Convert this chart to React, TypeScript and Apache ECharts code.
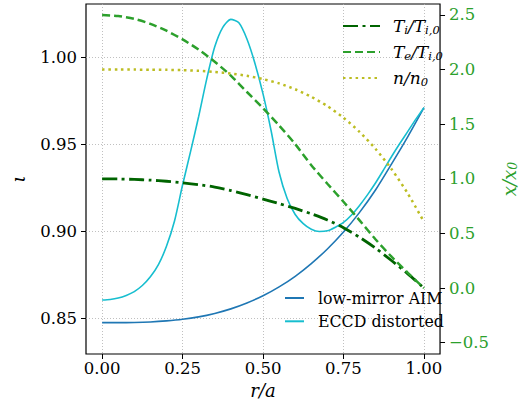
import React, { useEffect, useRef } from "react";
import * as echarts from "echarts";

// r/a sample points
const rGrid = [0, 0.05, 0.1, 0.15, 0.2, 0.25, 0.3, 0.35, 0.4, 0.45, 0.5, 0.55, 0.6, 0.65, 0.7, 0.75, 0.8, 0.85, 0.9, 0.95, 1.0];
// rotational transform, low-mirror AIM
const aimIota = [0.8477, 0.8477, 0.8478, 0.8481, 0.8487, 0.8496, 0.851, 0.853, 0.8556, 0.859, 0.8631, 0.8682, 0.8743, 0.8816, 0.89, 0.8997, 0.911, 0.924, 0.939, 0.9545, 0.9711];
// rotational transform, ECCD distorted (finer sampling)
const eccdR = [0, 0.025, 0.05, 0.075, 0.1, 0.125, 0.15, 0.175, 0.2, 0.225, 0.25, 0.275, 0.3, 0.325, 0.35, 0.375, 0.4, 0.425, 0.45, 0.475, 0.5, 0.525, 0.55, 0.575, 0.6, 0.625, 0.65, 0.675, 0.7, 0.725, 0.75, 0.775, 0.8, 0.825, 0.85, 0.875, 0.9, 0.925, 0.95, 0.975, 1.0];
const eccdIota = [0.8607, 0.861, 0.8618, 0.8633, 0.8655, 0.869, 0.874, 0.881, 0.8915, 0.906, 0.9267, 0.946, 0.966, 0.9875, 1.006, 1.0172, 1.0218, 1.0198, 1.0105, 0.9965, 0.979, 0.958, 0.934, 0.919, 0.9098, 0.9045, 0.9013, 0.9, 0.9004, 0.9025, 0.9052, 0.9095, 0.915, 0.9212, 0.928, 0.9355, 0.9432, 0.9505, 0.9575, 0.9645, 0.9711];
// profiles (right axis)
const tiProfile = [1.0, 0.999, 0.995, 0.988, 0.978, 0.964, 0.947, 0.925, 0.893, 0.855, 0.815, 0.773, 0.729, 0.68, 0.623, 0.553, 0.465, 0.365, 0.25, 0.13, 0.0];
const teProfile = [2.5, 2.491, 2.464, 2.419, 2.356, 2.277, 2.183, 2.072, 1.945, 1.795, 1.647, 1.488, 1.318, 1.125, 0.955, 0.79, 0.62, 0.445, 0.285, 0.14, 0.0];
const nProfile = [2.0, 2.0, 2.0, 1.999, 1.998, 1.995, 1.989, 1.979, 1.964, 1.943, 1.913, 1.874, 1.82, 1.751, 1.666, 1.56, 1.43, 1.273, 1.086, 0.865, 0.607];

// ticks
const xTicks = [0, 0.25, 0.5, 0.75, 1.0];
const iotaTicks = [0.85, 0.9, 0.95, 1.0];
const rightTicks = [-0.5, 0, 0.5, 1.0, 1.5, 2.0, 2.5];

const FONT = "DejaVu Serif";
const GREEN = "#2ca02c";
const TICK_FS = 16.5;

const zip = (xs: number[], ys: number[]) => xs.map((x, i) => [x, ys[i]]);

export default function App() {
  const ref = useRef<HTMLDivElement>(null);
  useEffect(() => {
    if (!ref.current) return;
    const chart = echarts.init(ref.current, null, { renderer: "svg" });
    const legendRich = {
      sp: { width: 8 },
      it: { fontFamily: FONT, fontStyle: "italic", fontSize: 17, lineHeight: 20, color: "#000" },
      sub: { fontFamily: FONT, fontStyle: "italic", fontSize: 11.5, lineHeight: 8, verticalAlign: "bottom", color: "#000" },
    };
    const legendLabels: Record<string, string> = {
      Ti: "{sp|}{it|T}{sub|i}{it|/T}{sub|i,0}",
      Te: "{sp|}{it|T}{sub|e}{it|/T}{sub|i,0}",
      n: "{sp|}{it|n/n}{sub|0}",
    };
    const lineSeries = (name: string, yAxisIndex: number, data: number[][], lineStyle: any) => ({
      name,
      type: "line",
      yAxisIndex,
      data,
      showSymbol: false,
      symbol: "none",
      smooth: 0.25,
      lineStyle,
      itemStyle: { color: lineStyle.color, opacity: 0 },
    });
    chart.setOption({
      animation: false,
      textStyle: { fontFamily: FONT },
      grid: {
        left: 73,
        right: 67,
        top: 4,
        bottom: 56,
        show: true,
        borderColor: "#000",
        borderWidth: 1.2,
        backgroundColor: "transparent",
      },
      legend: [
        {
          data: ["Ti", "Te", "n"],
          orient: "vertical",
          left: 342,
          top: 17.5,
          padding: 0,
          itemWidth: 37,
          itemHeight: 14,
          itemGap: 7.5,
          itemStyle: { opacity: 0 },
          formatter: (name: string) => legendLabels[name],
          textStyle: { fontFamily: FONT, rich: legendRich },
        },
        {
          data: ["low-mirror AIM", "ECCD distorted"],
          orient: "vertical",
          left: 284,
          top: 290,
          padding: 0,
          itemWidth: 19,
          itemHeight: 14,
          itemGap: 7.3,
          itemStyle: { opacity: 0 },
          formatter: (name: string) => "{sp|}{t|" + name + "}",
          textStyle: {
            fontFamily: FONT,
            rich: {
              sp: { width: 9 },
              t: { fontFamily: FONT, fontSize: 15.8, lineHeight: 20, color: "#000" },
            },
          },
        },
      ],
      xAxis: {
        type: "value",
        min: -0.05,
        max: 1.05,
        name: "r/a",
        nameLocation: "middle",
        nameGap: 17,
        nameTextStyle: { fontFamily: FONT, fontStyle: "italic", fontSize: 18, color: "#000" },
        axisLine: { show: false, onZero: false },
        axisTick: { show: true, customValues: xTicks, length: 5, lineStyle: { color: "#000", width: 1 } },
        axisLabel: {
          customValues: xTicks,
          formatter: (v: number) => v.toFixed(2),
          fontFamily: FONT,
          fontSize: TICK_FS,
          color: "#000",
          margin: 6,
        },
        splitLine: { show: true, lineStyle: { color: "#b0b0b0", width: 0.8, type: [1, 2] } },
      },
      yAxis: [
        {
          type: "value",
          position: "left",
          min: 0.8297,
          max: 1.0306,
          name: "ι",
          nameLocation: "middle",
          nameRotate: 90,
          nameGap: 59,
          nameTextStyle: { fontFamily: FONT, fontStyle: "italic", fontSize: 19, color: "#000" },
          axisLine: { show: false, onZero: false },
          axisTick: { show: true, customValues: iotaTicks, length: 5, lineStyle: { color: "#000", width: 1 } },
          axisLabel: {
            customValues: iotaTicks,
            formatter: (v: number) => v.toFixed(2),
            fontFamily: FONT,
            fontSize: TICK_FS,
            color: "#000",
            margin: 9,
          },
          splitLine: { show: true, lineStyle: { color: "#b0b0b0", width: 0.8, type: [1, 2] } },
        },
        {
          type: "value",
          position: "right",
          min: -0.6035,
          max: 2.6007,
          name: "{a|x/x}{b|0}",
          nameLocation: "middle",
          nameRotate: 90,
          nameGap: 44,
          nameTextStyle: {
            color: GREEN,
            fontFamily: FONT,
            rich: {
              a: { fontFamily: FONT, fontStyle: "italic", fontSize: 18, lineHeight: 20, color: GREEN },
              b: { fontFamily: FONT, fontStyle: "italic", fontSize: 12.5, lineHeight: 8, verticalAlign: "bottom", color: GREEN },
            },
          },
          axisLine: { show: false, onZero: false },
          axisTick: { show: true, customValues: rightTicks, length: 5, lineStyle: { color: "#000", width: 1 } },
          axisLabel: {
            customValues: rightTicks,
            formatter: (v: number) => (v < 0 ? "\u2212" + Math.abs(v).toFixed(1) : v.toFixed(1)),
            fontFamily: FONT,
            fontSize: TICK_FS,
            color: GREEN,
            margin: 9,
          },
          splitLine: { show: false },
        },
      ],
      series: [
        lineSeries("low-mirror AIM", 0, zip(rGrid, aimIota), { color: "#1f77b4", width: 1.6 }),
        lineSeries("ECCD distorted", 0, zip(eccdR, eccdIota), { color: "#17becf", width: 1.6 }),
        lineSeries("Ti", 1, zip(rGrid, tiProfile), { color: "#006400", width: 2.8, type: [15, 4.5, 3, 4.5], cap: "butt" }),
        lineSeries("Te", 1, zip(rGrid, teProfile), { color: GREEN, width: 2.5, type: [8, 4], cap: "butt" }),
        lineSeries("n", 1, zip(rGrid, nProfile), { color: "#bcbd22", width: 2.5, type: [2.5, 3.8], cap: "butt" }),
      ],
    });
    return () => chart.dispose();
  }, []);
  return <div ref={ref} style={{ position: "absolute", left: 0, top: 0, width: 527, height: 410 }} />;
}
